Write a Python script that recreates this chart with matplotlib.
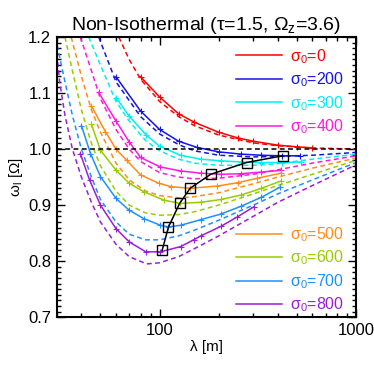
import matplotlib
matplotlib.use('Agg')
import matplotlib.pyplot as plt
from matplotlib.lines import Line2D
from matplotlib.ticker import MultipleLocator, NullFormatter, FixedLocator, FuncFormatter, LogLocator

# sigma_0 values and their colours
sigmas = [0, 200, 300, 400, 500, 600, 700, 800]
colors = ['#ff0000', '#1414e6', '#00f0f0', '#ff19e0', '#ff8c1a', '#99cc00', '#1f8fff', '#9a1ed6']

# solid curves (non-isothermal)
lam_solid = [
    [80, 100, 125, 150, 200, 250, 300, 400, 500, 600],
    [60, 80, 100, 125, 155, 200, 260, 330, 420, 520],
    [60, 70, 85, 100, 128, 162, 205, 260, 330, 420, 525],
    [49, 60, 70, 80, 101, 128, 162, 205, 260, 330, 415],
    [45, 53, 60, 68, 80, 99, 114, 143, 197, 250, 315, 415],
    [45, 50, 60, 70, 83, 105, 127, 162, 205, 260, 330, 415],
    [40, 44.5, 50, 60, 70, 83, 101, 111, 128, 162, 205, 260, 330, 410],
    [39.5, 44, 50, 60, 70, 85, 101, 128, 149, 162, 205, 249, 302],
]
om_solid = [
    [1.129, 1.093, 1.063, 1.048, 1.030, 1.020, 1.014, 1.007, 1.004, 1.002],
    [1.129, 1.068, 1.035, 1.014, 1.003, 0.995, 0.991, 0.989, 0.988, 0.988],
    [1.092, 1.059, 1.026, 1.005, 0.989, 0.982, 0.979, 0.977, 0.976, 0.976, 0.977],
    [1.101, 1.050, 1.013, 0.985, 0.968, 0.961, 0.957, 0.955, 0.956, 0.959, 0.962],
    [1.077, 1.031, 1.000, 0.980, 0.954, 0.939, 0.933, 0.930, 0.934, 0.940, 0.948, 0.957],
    [1.044, 0.998, 0.9625, 0.939, 0.924, 0.909, 0.903, 0.905, 0.910, 0.918, 0.930, 0.943],
    [1.042, 0.992, 0.951, 0.912, 0.891, 0.876, 0.864, 0.861, 0.864, 0.874, 0.884, 0.898, 0.914, 0.932],
    [0.992, 0.945, 0.900, 0.858, 0.8345, 0.8166, 0.8166, 0.826, 0.838, 0.845, 0.862, 0.879, 0.897],
]

# dashed curves (isothermal reference)
lam_dash = [
    [62, 70, 80, 100, 125, 150, 200, 300, 400, 600, 1000],
    [49, 60, 80, 100, 125, 150, 200, 300, 400, 600, 1000],
    [43.6, 50, 60, 70, 85, 100, 125, 150, 200, 300, 400, 600, 1000],
    [39.5, 45, 50, 60, 70, 80, 100, 125, 150, 200, 300, 400, 600, 1000],
    [35.5, 40, 45, 50, 60, 70, 85, 100, 125, 150, 200, 300, 400, 600, 1000],
    [33, 36, 40, 45, 50, 60, 70, 85, 100, 125, 150, 200, 300, 400, 600, 1000],
    [29.5, 33, 36, 40, 45, 50, 60, 70, 85, 100, 125, 150, 200, 300, 400, 600, 1000],
    [30, 31, 33, 36, 40, 45, 50, 60, 70, 86, 100, 125, 150, 200, 300, 400, 600, 1000],
]
om_dash = [
    [1.2, 1.16, 1.125, 1.085, 1.058, 1.042, 1.025, 1.011, 1.006, 1.002, 1.0],
    [1.2, 1.12, 1.058, 1.027, 1.008, 0.997, 0.989, 0.986, 0.987, 0.989, 0.994],
    [1.2, 1.15, 1.085, 1.05, 1.015, 0.997, 0.982, 0.975, 0.971, 0.971, 0.974, 0.982, 0.991],
    [1.2, 1.14, 1.09, 1.035, 1.0, 0.978, 0.958, 0.95, 0.947, 0.948, 0.955, 0.963, 0.975, 0.988],
    [1.2, 1.13, 1.07, 1.03, 0.975, 0.945, 0.925, 0.917, 0.913, 0.915, 0.922, 0.938, 0.95, 0.966, 0.984],
    [1.2, 1.14, 1.07, 1.01, 0.97, 0.925, 0.9, 0.886, 0.882, 0.883, 0.888, 0.9, 0.92, 0.935, 0.955, 0.98],
    [1.2, 1.12, 1.06, 1.0, 0.95, 0.91, 0.87, 0.848, 0.838, 0.838, 0.845, 0.855, 0.873, 0.9, 0.92, 0.945, 0.976],
    [1.17, 1.12, 1.06, 1.0, 0.95, 0.905, 0.87, 0.83, 0.808, 0.795, 0.797, 0.808, 0.822, 0.845, 0.88, 0.905, 0.935, 0.972],
]

# minima of the solid curves, joined by the black line
lam_min = [103, 111, 126.5, 143, 182, 277, 423]
om_min = [0.819, 0.861, 0.903, 0.930, 0.955, 0.976, 0.988]

plt.rcParams['font.family'] = ['Liberation Sans', 'DejaVu Sans']
plt.rcParams['mathtext.fontset'] = 'custom'
plt.rcParams['mathtext.rm'] = 'Liberation Sans'
plt.rcParams['mathtext.it'] = 'Liberation Sans'
plt.rcParams['mathtext.default'] = 'regular'

fig = plt.figure(figsize=(3.74, 3.74), dpi=100)
ax = fig.add_axes([0.152, 0.152, 0.800, 0.749])

dash = (0, (3.2, 2.2))
for i in range(len(sigmas)):
    ax.plot(lam_dash[i], om_dash[i], color=colors[i], lw=1.1, ls=dash)
    ax.plot(lam_solid[i], om_solid[i], color=colors[i], lw=1.1,
            marker='+', ms=4, mew=0.8)

ax.axhline(1.0, color='black', lw=1.1, ls=dash)
ax.plot(lam_min, om_min, color='black', lw=1.1, marker='s', ms=7.5,
        mfc='none', mec='black', mew=1.0)

# axes styling, IDL-like ticks on every side
ax.set_xscale('log')
ax.set_xlim(30, 1000)
ax.set_ylim(0.7, 1.2)
ax.xaxis.set_major_locator(FixedLocator([100, 1000]))
ax.xaxis.set_major_formatter(FuncFormatter(lambda v, p: f'{v:.0f}'))
ax.xaxis.set_minor_locator(LogLocator(base=10, subs=range(2, 10)))
ax.xaxis.set_minor_formatter(NullFormatter())
ax.yaxis.set_major_locator(MultipleLocator(0.1))
ax.yaxis.set_minor_locator(MultipleLocator(0.01))
ax.yaxis.set_major_formatter(FuncFormatter(lambda v, p: f'{v:.1f}'))
ax.tick_params(which='both', direction='in', top=True, right=True, labelsize=12, width=1.0)
ax.tick_params(which='major', length=6, pad=4)
ax.tick_params(which='minor', length=3)
for s in ax.spines.values():
    s.set_linewidth(1.5)

ax.set_xlabel('λ [m]', fontsize=11, labelpad=2)
ax.set_ylabel('ω$_l$ [Ω]', fontsize=11, labelpad=2)
ax.set_title('Non-Isothermal (τ=1.5, Ω$_z$=3.6)', fontsize=14, pad=5)

# two legend blocks, text coloured like the lines
handles = [Line2D([], [], color=c, lw=1.1) for c in colors]
labels = [f'σ$_0$={s}' for s in sigmas]
kw = dict(frameon=False, fontsize=11.5, handlelength=2.9, handletextpad=0.5,
          labelspacing=0.3, borderpad=0, borderaxespad=0, labelcolor='linecolor')
leg1 = ax.legend(handles[:4], labels[:4], loc='upper left', bbox_to_anchor=(0.599, 0.965), **kw)
ax.add_artist(leg1)
ax.legend(handles[4:], labels[4:], loc='lower left', bbox_to_anchor=(0.599, 0.01), **kw)

fig.savefig('out.png', dpi=100)
